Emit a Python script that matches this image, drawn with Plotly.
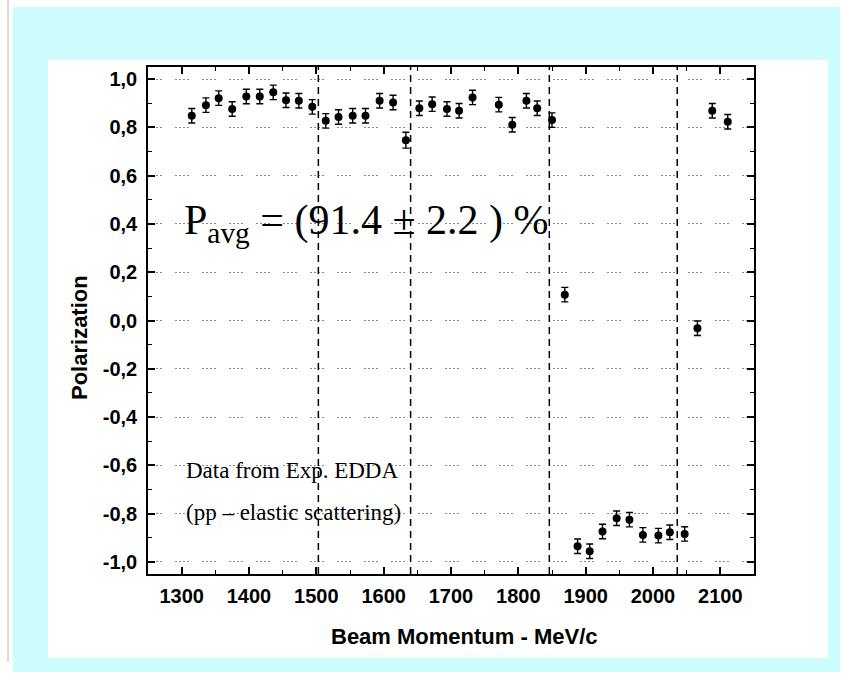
import plotly.graph_objects as go

# ---- data ----
momentum = [1315, 1336, 1355, 1375, 1396, 1416, 1436, 1455, 1474, 1494,
            1514, 1533, 1554, 1573, 1594, 1614, 1633, 1653, 1672, 1694,
            1712, 1732, 1771, 1791, 1812, 1828, 1850, 1869, 1888, 1906,
            1925, 1946, 1965, 1985, 2008, 2025, 2047, 2066, 2088, 2111]
polarization = [0.848, 0.892, 0.921, 0.876, 0.928, 0.928, 0.945, 0.912, 0.910, 0.885,
                0.827, 0.843, 0.848, 0.848, 0.910, 0.903, 0.747, 0.879, 0.896, 0.876,
                0.869, 0.924, 0.894, 0.811, 0.910, 0.879, 0.830, 0.107, -0.935, -0.956,
                -0.874, -0.819, -0.825, -0.888, -0.891, -0.877, -0.884, -0.032, 0.869, 0.823]
error = [0.03, 0.03, 0.03, 0.03, 0.03, 0.03, 0.03, 0.03, 0.03, 0.03,
         0.03, 0.03, 0.03, 0.03, 0.03, 0.03, 0.033, 0.03, 0.03, 0.03,
         0.03, 0.03, 0.03, 0.03, 0.03, 0.03, 0.03, 0.03, 0.03, 0.03,
         0.03, 0.03, 0.03, 0.03, 0.03, 0.03, 0.03, 0.03, 0.03, 0.03]
boundaries = [1503, 1640, 1846, 2036]

x_ticks = [1300, 1400, 1500, 1600, 1700, 1800, 1900, 2000, 2100]
y_ticks = [-1.0, -0.8, -0.6, -0.4, -0.2, 0.0, 0.2, 0.4, 0.6, 0.8, 1.0]
y_tick_text = ["-1,0", "-0,8", "-0,6", "-0,4", "-0,2", "0,0", "0,2", "0,4", "0,6", "0,8", "1,0"]

# ---- layout geometry (pixels) ----
W, H = 851, 681
L, R, T, B = 148, 754, 67, 574


def fx(px):
    return (px - L) / (R - L)


def fy(py):
    return (B - py) / (B - T)


fig = go.Figure()
fig.add_trace(go.Scatter(
    x=momentum, y=polarization, mode="markers",
    marker=dict(color="black", size=8),
    error_y=dict(type="data", array=error, color="black", thickness=1.4, width=3.5),
    showlegend=False, cliponaxis=False,
))

shapes = [
    dict(type="line", xref="paper", yref="paper", x0=fx(8), x1=fx(8), y0=fy(0), y1=fy(662),
         line=dict(color="#b8b8b8", width=1), layer="below"),
    dict(type="rect", xref="paper", yref="paper", x0=fx(13), x1=fx(840), y0=fy(672), y1=fy(7),
         fillcolor="#ccfcfc", line=dict(width=0), layer="below"),
    dict(type="rect", xref="paper", yref="paper", x0=fx(48), x1=fx(828), y0=fy(658), y1=fy(60),
         fillcolor="white", line=dict(width=0), layer="below"),
]
for b in boundaries:
    shapes.append(dict(type="line", xref="x", yref="paper", x0=b, x1=b, y0=0, y1=1,
                       line=dict(color="black", width=1.5, dash="7px,5px")))

tickfont = dict(family="Liberation Sans, Arial", size=20, color="black", weight="bold")
titlefont = dict(family="Liberation Sans, Arial", size=22, color="black", weight="bold")
serif = "Liberation Serif, Times New Roman"

annotations = [
    dict(xref="paper", yref="paper", x=fx(465), y=fy(636), text="Beam Momentum - MeV/c",
         showarrow=False, font=titlefont, xanchor="center", yanchor="middle"),
    dict(xref="paper", yref="paper", x=fx(79), y=fy(338), text="Polarization", textangle=-90,
         showarrow=False, font=titlefont, xanchor="center", yanchor="middle"),
    dict(xref="paper", yref="paper", x=fx(182), y=fy(223),
         text="P<sub>avg</sub> = (91.4 ± 2.2 ) %",
         showarrow=False, font=dict(family=serif, size=42, color="black"),
         xanchor="left", yanchor="middle"),
    dict(xref="paper", yref="paper", x=fx(184), y=fy(470), text="Data from Exp. EDDA",
         showarrow=False, font=dict(family=serif, size=23, color="black"),
         xanchor="left", yanchor="middle"),
    dict(xref="paper", yref="paper", x=fx(184), y=fy(512), text="(pp – elastic scattering)",
         showarrow=False, font=dict(family=serif, size=23, color="black"),
         xanchor="left", yanchor="middle"),
]

fig.update_layout(
    width=W, height=H,
    margin=dict(l=L, r=W - R, t=T, b=H - B, autoexpand=False),
    paper_bgcolor="white", plot_bgcolor="rgba(0,0,0,0)",
    shapes=shapes, annotations=annotations,
    xaxis=dict(range=[1250, 2150], tickvals=x_ticks, ticks="inside", ticklen=7, tickwidth=1.5,
               tickcolor="black", showline=True, linecolor="black", linewidth=1.5,
               mirror="allticks", showgrid=False, zeroline=False, tickfont=tickfont,
               ticklabelstandoff=3,
               minor=dict(ticks="inside", ticklen=4, tickwidth=1.2, tickcolor="black",
                          dtick=50, tick0=1250, showgrid=False)),
    yaxis=dict(range=[-1.05, 1.05], tickvals=y_ticks, ticktext=y_tick_text, ticks="inside",
               ticklen=7, tickwidth=1.5, tickcolor="black", showline=True, linecolor="black",
               linewidth=1.5, mirror="allticks", showgrid=True, gridcolor="#8a8a8a", gridwidth=1,
               griddash="2px,2px,2px,2px,2px,2px,2px,13px", zeroline=False, tickfont=tickfont,
               ticklabelstandoff=5,
               minor=dict(ticks="inside", ticklen=4, tickwidth=1.2, tickcolor="black",
                          dtick=0.1, tick0=0, showgrid=False)),
)

fig.write_html("out.html")
